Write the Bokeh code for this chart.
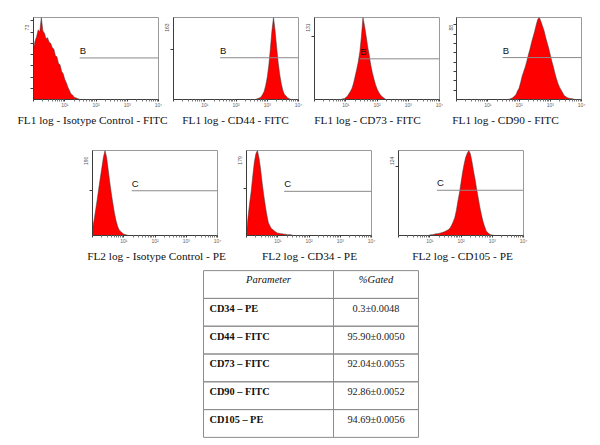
from bokeh.plotting import figure
from bokeh.layouts import column, row
from bokeh.models import FixedTicker, Range1d, Spacer
from bokeh.embed import file_html
from bokeh.resources import INLINE
from bokeh.core.properties import value

# ------------------------------------------------------------------ data
STEP = 0.05  # histogram channel width, in decades of fluorescence

fl1_isotype_start = 0.0
fl1_isotype_counts = [45, 52, 56, 62, 60, 73, 61, 59, 54, 55, 51, 50, 46, 45, 39, 38,
                      32, 31, 25, 23, 18, 15, 11, 8, 5, 4, 2, 1.5, 1, 0.4, 0]
cd44_start = 2.65
cd44_counts = [1, 2, 3, 5, 10, 16, 28, 44, 68, 101, 137, 163, 137, 104, 73, 49, 31,
               18, 10, 7, 3, 2, 0]
cd73_start = 0.85
cd73_counts = [0, 1, 1, 3, 5, 9, 13, 18, 26, 37, 48, 60, 76, 100, 131, 118, 102, 85,
               71, 55, 43, 33, 24, 17, 12, 8, 5, 3, 1, 0]
cd90_start = 1.65
cd90_counts = [0, 0.5, 1, 2, 3.5, 5, 9, 12, 18, 25, 30, 35, 41, 48, 54, 61, 67, 73,
               80, 86, 88, 84, 79, 74, 67, 61, 55, 48, 41, 35, 28, 22, 17, 13, 10,
               7, 4, 3, 2, 1.3, 1, 0.9, 0.4, 0]
fl2_isotype_start = 0.0
fl2_isotype_counts = [15, 34, 57, 80, 105, 129, 152, 175, 190, 175, 148, 120, 95, 72,
                      51, 34, 21, 13, 9, 6, 3, 2, 1, 0]
cd34_start = 0.0
cd34_counts = [5, 39, 68, 93, 125, 154, 172, 179, 163, 140, 111, 86, 63, 43, 27, 20,
               14, 12, 9, 7, 5, 4.5, 3.6, 3.6, 2.7, 2.7, 1.8, 1.8, 1.8, 0.9, 0]
cd105_start = 0.95
cd105_counts = [0, 0.6, 1.2, 1.2, 1.9, 2.5, 2.5, 3.1, 3.7, 4.3, 5, 6.2, 7.4, 8.7, 11,
                15, 20, 26, 36, 50, 62, 77, 92, 104, 114, 120, 124, 119, 108, 94, 82,
                68, 55, 42, 31, 21, 14, 7.4, 4.3, 2.5, 1.2, 0.6, 0]

hist_starts = [fl1_isotype_start, cd44_start, cd73_start, cd90_start,
               fl2_isotype_start, cd34_start, cd105_start]
hist_counts = [fl1_isotype_counts, cd44_counts, cd73_counts, cd90_counts,
               fl2_isotype_counts, cd34_counts, cd105_counts]

panel_titles = ["FL1 log - Isotype Control - FITC", "FL1 log - CD44 - FITC",
                "FL1 log - CD73 - FITC", "FL1 log - CD90 - FITC",
                "FL2 log - Isotype Control - PE", "FL2 log - CD34 - PE",
                "FL2 log - CD105 - PE"]
y_max = [73, 163, 131, 88, 190, 179, 124]
y_ticks = [[10, 20, 30, 40, 50, 60, 70], [100], [100],
           [10, 20, 30, 40, 50, 60, 70, 80], [100], [100], [100]]
gate_names = ["B", "B", "B", "B", "C", "C", "C"]
gate_start = [30, 31, 29, 30, 18, 16, 17]
gate_level = [37, 83, 65, 45, 100, 93, 66]

x_major = [1, 10, 100, 1000, 10000]
x_major_labels = ["", "10¹", "10²", "10³", "10⁴"]

table_header = ["Parameter", "%Gated"]
table_param = ["CD34 – PE", "CD44 – FITC", "CD73 – FITC", "CD90 – FITC", "CD105 – PE"]
table_gated = ["0.3±0.0048", "95.90±0.0050", "92.04±0.0055", "92.86±0.0052",
               "94.69±0.0056"]

# ------------------------------------------------------------------ layout constants
MARGIN = 8          # page margin (the Bokeh page template sets body margin to 0)
FRAME_W = 125
ROW1_H, ROW2_H = 84, 87
row1_borders = [(25, 4), (11, 4), (12, 4), (13, 6)]
row2_borders = [(22, 8), (21, 8), (19, 8)]
row1_label_x = [92, 235, 367, 505]
row2_label_x = [156, 309, 462]
PAGE_W = 579

RED = "#ff0000"
AX = "#3c3c3c"
FRAME = "#9a9a9a"
SERIF = "Liberation Serif"
SANS = "Liberation Sans"

x_minor = [k * 10 ** n for n in range(4) for k in range(2, 10)]


def hist_fig(i, left, right, top, frame_h, bottom):
    p = figure(width=left + FRAME_W + right, height=top + frame_h + bottom,
               x_axis_type="log", x_range=Range1d(1, 10 ** 4),
               y_range=Range1d(0, y_max[i]), output_backend="svg",
               toolbar_location=None, min_border_left=left, min_border_right=right,
               min_border_top=top, min_border_bottom=bottom)
    p.grid.visible = False
    p.outline_line_color = FRAME
    p.outline_line_width = 1
    p.background_fill_color = "white"
    p.border_fill_color = "white"

    start, counts = hist_starts[i], hist_counts[i]
    xs = [10 ** (start + k * STEP) for k in range(len(counts))]
    px = [xs[0]] + xs + [xs[-1]]
    py = [0] + list(counts) + [0]
    p.patch(px, py, fill_color=RED, line_color="#383838", line_width=0.6,
            line_alpha=0.85)

    # gate marker
    p.segment(x0=[gate_start[i]], y0=[gate_level[i]], x1=[10 ** 4], y1=[gate_level[i]],
              line_color="#8a8a8a", line_width=1)
    p.text(x=[gate_start[i]], y=[gate_level[i]], text=[gate_names[i]],
           text_font=value(SANS), text_font_size="9.5px", text_color="#111111",
           text_baseline="bottom", text_align="left", x_offset=0, y_offset=-2)

    ax = p.xaxis[0]
    ax.ticker = FixedTicker(ticks=x_major, minor_ticks=x_minor)
    ax.major_label_overrides = dict(zip(x_major, x_major_labels))
    ax.major_label_text_font = SANS
    ax.major_label_text_font_size = "5px"
    ax.major_label_text_color = "#666666"
    ax.major_label_standoff = 0
    ax.major_tick_out = 2
    ax.major_tick_in = 0
    ax.minor_tick_out = 2
    ax.minor_tick_in = 0
    ax.axis_line_color = AX
    ax.major_tick_line_color = AX
    ax.minor_tick_line_color = "#777777"

    lab_pos = round(0.88 * y_max[i])
    ay = p.yaxis[0]
    ay.ticker = FixedTicker(ticks=[lab_pos], minor_ticks=y_ticks[i])
    ay.major_label_overrides = {lab_pos: str(y_max[i])}
    ay.major_label_orientation = "vertical"
    ay.major_label_text_font = SANS
    ay.major_label_text_font_size = "5px"
    ay.major_label_text_color = "#555555"
    ay.major_label_standoff = 1
    ay.major_tick_out = 0
    ay.major_tick_in = 0
    ay.minor_tick_out = 3
    ay.minor_tick_in = 0
    ay.axis_line_color = AX
    ay.minor_tick_line_color = AX
    return p


def title_strip(y_top, y_bot, baseline, xs, titles):
    s = figure(width=PAGE_W, height=y_bot - y_top, x_range=Range1d(8, 8 + PAGE_W),
               y_range=Range1d(y_bot, y_top), output_backend="svg",
               toolbar_location=None, min_border=0, x_axis_location=None,
               y_axis_location=None)
    s.grid.visible = False
    s.outline_line_color = None
    s.text(x=xs, y=[baseline] * len(xs), text=titles, text_align="center",
           text_baseline="alphabetic", text_font=value(SERIF),
           text_font_size="11.3px", text_color="#111111")
    return s


row1 = [hist_fig(i, l, r, 9, ROW1_H, 9) for i, (l, r) in enumerate(row1_borders)]
row2 = [hist_fig(i + 4, l, r, 22, ROW2_H, 9) for i, (l, r) in enumerate(row2_borders)]

strip1 = title_strip(110, 128, 119.5, row1_label_x, panel_titles[:4])
strip2 = title_strip(246, 264, 255.5, row2_label_x, panel_titles[4:])

# ------------------------------------------------------------------ table
col_edges = [0, 130, 215]
n_rows = len(table_param) + 1
t = figure(width=219, height=176, x_range=Range1d(-1, 216),
           y_range=Range1d(n_rows + 0.04, -0.04), output_backend="svg",
           toolbar_location=None, min_border_left=1, min_border_right=1,
           min_border_top=5, min_border_bottom=2, x_axis_location=None,
           y_axis_location=None)
t.grid.visible = False
t.outline_line_color = None
cell_l, cell_r, cell_t, cell_b = [], [], [], []
for r in range(n_rows):
    for c in range(2):
        cell_l.append(col_edges[c])
        cell_r.append(col_edges[c + 1])
        cell_t.append(r)
        cell_b.append(r + 1)
t.quad(left=cell_l, right=cell_r, top=cell_t, bottom=cell_b, fill_color=None,
       line_color="#8c8c8c", line_width=1)

centers = [(col_edges[0] + col_edges[1]) / 2, (col_edges[1] + col_edges[2]) / 2]
t.text(x=centers, y=[0.5, 0.5], text=table_header, text_align="center",
       text_baseline="middle", text_font=value(SERIF), text_font_style="italic",
       text_font_size="10.5px", text_color="#111111", y_offset=-5)
body_y = [r + 1.5 for r in range(len(table_param))]
t.text(x=[col_edges[0]] * len(table_param), y=body_y, text=table_param,
       text_align="left", text_baseline="middle", text_font=value(SERIF),
       text_font_style="bold", text_font_size="10.3px", text_color="#111111",
       x_offset=6, y_offset=-4)
t.text(x=[centers[1]] * len(table_gated), y=body_y, text=table_gated,
       text_align="center", text_baseline="middle", text_font=value(SERIF),
       text_font_size="10.3px", text_color="#222222", y_offset=-4)

content = column(
    row(*row1),
    strip1,
    row(Spacer(width=62, height=1), *row2),
    strip2,
    row(Spacer(width=193, height=1), t),
)
layout = row(Spacer(width=MARGIN, height=1),
             column(Spacer(width=1, height=MARGIN), content))

open("out.html", "w").write(file_html(layout, INLINE))
